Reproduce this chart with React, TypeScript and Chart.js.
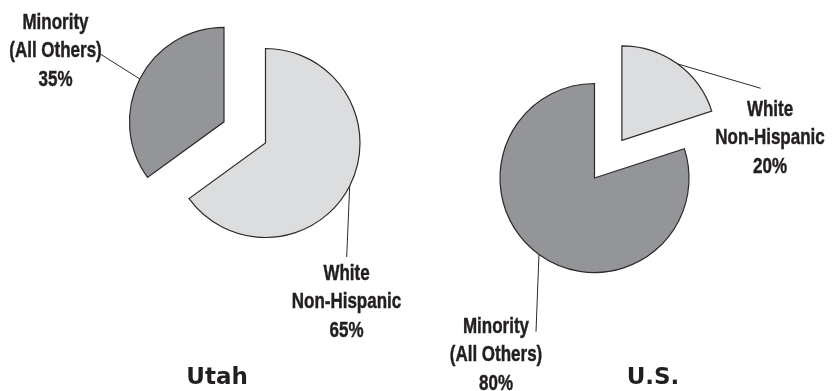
import React, { useEffect, useRef } from 'react';
import { Chart, registerables } from 'chart.js';

Chart.register(...registerables);

// ---- data ----
const categories = ['White Non-Hispanic', 'Minority (All Others)'];
const categoryLines = [['White', 'Non-Hispanic'], ['Minority', '(All Others)']];
const utahValues = [65, 35];
const usValues = [20, 80];
const utahExploded = [false, true];
const usExploded = [true, false];
const chartTitles = ['Utah', 'U.S.'];

// ---- styles ----
const sliceColors = ['#dcddde', '#939598'];
const borderColor = '#2b2a2b';
const textColor = '#231f20';
const labelFont = 'bold 21.5px "Liberation Sans", Arial, sans-serif';
const LABEL_SX = 0.79;
const titleFont = 'bold 23px "DejaVu Sans", "Liberation Sans", Arial, sans-serif';
const EXPLODE = 46.6;
const RADIUS = 94.5;
const LINE_H = 28.3;
const W = 419;
const H = 391;

function paddingFor(cx: number, cy: number) {
  return {
    left: cx > W / 2 ? 2 * cx - W : 0,
    right: cx > W / 2 ? 0 : W - 2 * cx,
    top: cy > H / 2 ? 2 * cy - H : 0,
    bottom: cy > H / 2 ? 0 : H - 2 * cy,
  };
}

// centre of the exploded slice = base centre moved outward along the slice's mid-angle
function explodedCentre(values: number[], exploded: boolean[], cx: number, cy: number) {
  const total = values.reduce((a, b) => a + b, 0);
  let cum = 0;
  for (let i = 0; i < values.length; i++) {
    if (exploded[i]) {
      const mid = -Math.PI / 2 + (2 * Math.PI * (cum + values[i] / 2)) / total;
      return [cx + Math.cos(mid) * EXPLODE, cy + Math.sin(mid) * EXPLODE];
    }
    cum += values[i];
  }
  return [cx, cy];
}

const labelPlugin = {
  id: 'sliceLabels',
  afterDraw(chart: any, _args: any, opts: any) {
    const ctx = chart.ctx;
    const meta = chart.getDatasetMeta(0);
    const values = chart.data.datasets[0].data;
    meta.data.forEach((arc: any, i: number) => {
      if (!opts.show[i]) return;
      const p = arc.getProps(['x', 'y', 'startAngle', 'endAngle', 'outerRadius'], true);
      const mid = (p.startAngle + p.endAngle) / 2;
      const ax = p.x + Math.cos(mid) * p.outerRadius;
      const ay = p.y + Math.sin(mid) * p.outerRadius;
      const lab = opts.labels[i];
      ctx.save();
      ctx.strokeStyle = borderColor;
      ctx.lineWidth = 1;
      ctx.beginPath();
      ctx.moveTo(ax, ay);
      ctx.lineTo(lab.lineEnd[0], lab.lineEnd[1]);
      ctx.stroke();
      ctx.font = labelFont;
      ctx.fillStyle = textColor;
      ctx.strokeStyle = textColor;
      ctx.lineWidth = 0.45;
      ctx.textAlign = 'center';
      ctx.textBaseline = 'alphabetic';
      const lines = [...categoryLines[i], `${values[i]}%`];
      lines.forEach((t: string, k: number) => {
        ctx.save();
        ctx.translate(lab.x, lab.y + k * LINE_H);
        ctx.scale(LABEL_SX, 1);
        ctx.fillText(t, 0, 0);
        ctx.strokeText(t, 0, 0);
        ctx.restore();
      });
      ctx.restore();
    });
    if (opts.title) {
      ctx.save();
      ctx.font = titleFont;
      ctx.fillStyle = textColor;
      ctx.textAlign = 'center';
      ctx.textBaseline = 'alphabetic';
      ctx.fillText(opts.title, opts.titleX, opts.titleY);
      ctx.restore();
    }
  },
};

interface LayerProps {
  values: number[];
  show: boolean[];
  cx: number;
  cy: number;
  labels: { x: number; y: number; lineEnd: [number, number] }[];
  title?: string;
  titleX?: number;
  titleY?: number;
  left: number;
}

function PieLayer(props: LayerProps) {
  const ref = useRef<HTMLCanvasElement>(null);
  useEffect(() => {
    if (!ref.current) return;
    const chart = new Chart(ref.current, {
      type: 'pie',
      data: {
        labels: categories,
        datasets: [
          {
            data: props.values,
            backgroundColor: sliceColors.map((c, i) => (props.show[i] ? c : 'rgba(0,0,0,0)')),
            borderColor: props.show.map((s) => (s ? borderColor : 'rgba(0,0,0,0)')),
            borderWidth: props.show.map((s) => (s ? 1.2 : 0)),
            borderJoinStyle: 'miter',
            hoverOffset: 0,
          } as any,
        ],
      },
      options: {
        responsive: false,
        animation: false,
        devicePixelRatio: 1,
        radius: RADIUS,
        layout: { padding: paddingFor(props.cx, props.cy) },
        events: [],
        plugins: {
          legend: { display: false },
          tooltip: { enabled: false },
          title: { display: false },
          sliceLabels: {
            labels: props.labels,
            show: props.show,
            title: props.title,
            titleX: props.titleX,
            titleY: props.titleY,
          },
        } as any,
      } as any,
      plugins: [labelPlugin],
    });
    return () => chart.destroy();
  }, []);
  return (
    <canvas
      ref={ref}
      width={W}
      height={H}
      style={{ position: 'absolute', left: props.left, top: 0, width: W, height: H }}
    />
  );
}

interface PieProps {
  values: number[];
  exploded: boolean[];
  cx: number;
  cy: number;
  labels: { x: number; y: number; lineEnd: [number, number] }[];
  title: string;
  titleX: number;
  titleY: number;
  left: number;
}

function ExplodedPie(props: PieProps) {
  const [ex, ey] = explodedCentre(props.values, props.exploded, props.cx, props.cy);
  return (
    <>
      <PieLayer
        left={props.left}
        values={props.values}
        show={props.exploded.map((e) => !e)}
        cx={props.cx}
        cy={props.cy}
        labels={props.labels}
        title={props.title}
        titleX={props.titleX}
        titleY={props.titleY}
      />
      <PieLayer
        left={props.left}
        values={props.values}
        show={props.exploded}
        cx={ex}
        cy={ey}
        labels={props.labels}
      />
    </>
  );
}

export default function App() {
  useEffect(() => {
    document.body.style.margin = '0';
  }, []);
  return (
    <div style={{ position: 'relative', width: 838, height: 391, background: '#fff', overflow: 'hidden' }}>
      <ExplodedPie
        left={0}
        values={utahValues}
        exploded={utahExploded}
        cx={265.5}
        cy={143}
        labels={[
          { x: 346.5, y: 280, lineEnd: [346.7, 257] },
          { x: 55.5, y: 29, lineEnd: [99.5, 53.5] },
        ]}
        title={chartTitles[0]}
        titleX={217}
        titleY={384}
      />
      <ExplodedPie
        left={419}
        values={usValues}
        exploded={usExploded}
        cx={175.5}
        cy={178}
        labels={[
          { x: 351, y: 116, lineEnd: [341.7, 88.3] },
          { x: 77, y: 333, lineEnd: [117, 331.7] },
        ]}
        title={chartTitles[1]}
        titleX={234}
        titleY={384}
      />
    </div>
  );
}
